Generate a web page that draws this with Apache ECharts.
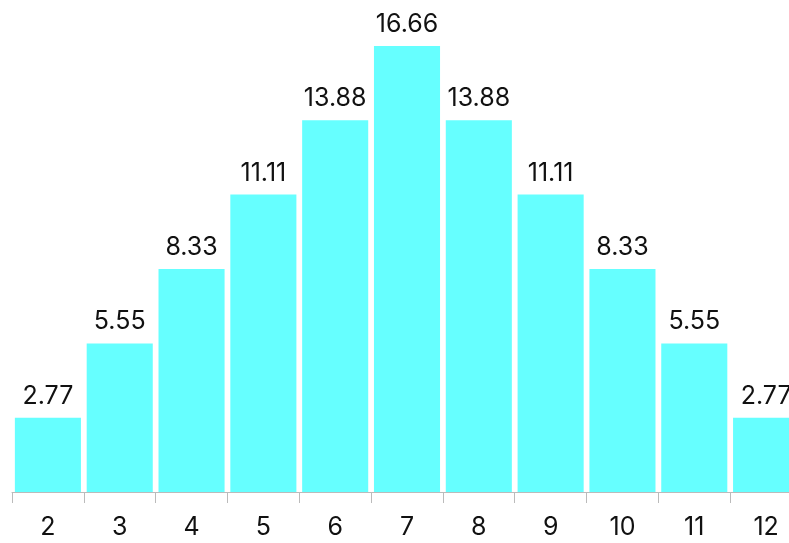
<!DOCTYPE html>
<html lang="en">
  <head>
    <meta charset="UTF-8" />
    <title>Dice sums</title>
    <script src="https://cdn.jsdelivr.net/npm/echarts@6.0.0/dist/echarts.min.js"></script>
    <style>
      html, body { margin: 0; padding: 0; background: #fff; overflow: hidden; }
      /* chart is a bit wider than the window, the last bar gets cut like in the original */
      #chart { width: 803px; height: 543px; }
    </style>
  </head>
  <body>
    <div id="chart"></div>
  </body>
</html>
<script>
  const categories = ["2", "3", "4", "5", "6", "7", "8", "9", "10", "11", "12"];
  const percents = [2.77, 5.55, 8.33, 11.11, 13.88, 16.66, 13.88, 11.11, 8.33, 5.55, 2.77];

  const chart = echarts.init(document.getElementById("chart"));
  const option = {
    animation: false,
    textStyle: { fontFamily: "Inter" },
    grid: { left: 12, right: 1, top: 10, bottom: 51, containLabel: false },
    xAxis: {
      type: "category",
      data: categories,
      axisLine: { show: true, lineStyle: { color: "#bbb" } },
      axisTick: { show: true, length: 11, lineStyle: { color: "#bbb" } },
      axisLabel: { color: "#111", fontSize: 25, margin: 23, fontFamily: "Inter" },
    },
    yAxis: {
      type: "value",
      min: 0,
      max: 18,
      show: false,
    },
    series: [
      {
        type: "bar",
        data: percents,
        barCategoryGap: "8%",
        itemStyle: { color: "#66FFFF" },
        label: {
          show: true,
          position: "top",
          distance: 9,
          color: "#111",
          fontSize: 25,
          fontFamily: "Inter",
        },
      },
    ],
  };
  chart.setOption(option);
</script>
